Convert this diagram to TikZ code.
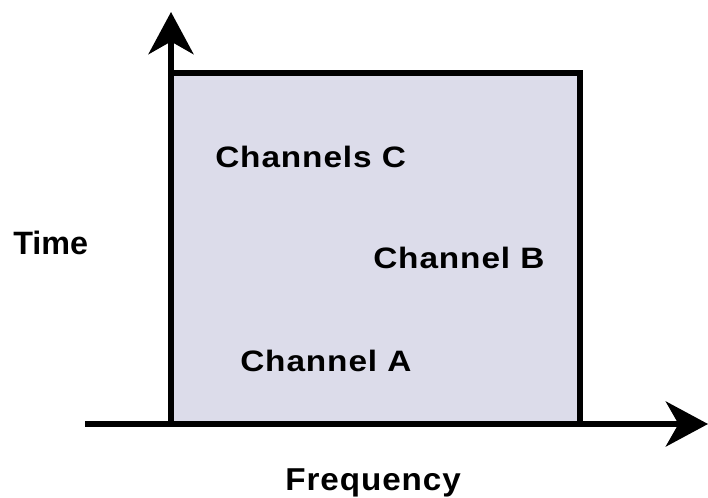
\documentclass[tikz,border=0pt]{standalone}
\usepackage{fontspec}
\setmainfont{Liberation Sans}
\usetikzlibrary{arrows.meta}

\definecolor{bandfill}{HTML}{DCDCEA}

\tikzset{
  axis/.style={line width=4pt, -{Stealth[length=30, width=32, inset=9]}},
  chlabel/.style={inner sep=0pt, anchor=base west,
    font=\bfseries\fontsize{21}{24}\selectfont\addfontfeatures{FakeStretch=1.13,LetterSpace=3}},
  axlabel/.style={inner sep=0pt, anchor=base west,
    font=\bfseries\fontsize{22.5}{26}\selectfont\addfontfeatures{FakeStretch=1.05,LetterSpace=3}},
}

\begin{document}
\begin{tikzpicture}[x=0.025cm, y=-0.025cm]
        \useasboundingbox (0,0) rectangle (708,498);

        % shared time/frequency area
        \draw[line width=4pt, fill=bandfill] (171,73) rectangle (580,424);

        % axes
        \coordinate (origin) at (171,424);
        \coordinate (fend) at (708,424);
        \coordinate (xstart) at (85,424);
        \coordinate (tend) at (171,12);
        \draw[axis] (xstart) -- (fend);
        \draw[axis] (origin) -- (tend);

        \node[axlabel, font=\bfseries\fontsize{23}{26}\selectfont] (time) at (13,255) {Time};
        \node[axlabel] (freq) at (285,490) {Frequency};

        \node[chlabel] (chc) at (215,168) {Channels C};
        \node[chlabel] (chb) at (373,268) {Channel B};
        \node[chlabel] (cha) at (240,371) {Channel A};
    \end{tikzpicture}
\end{document}
